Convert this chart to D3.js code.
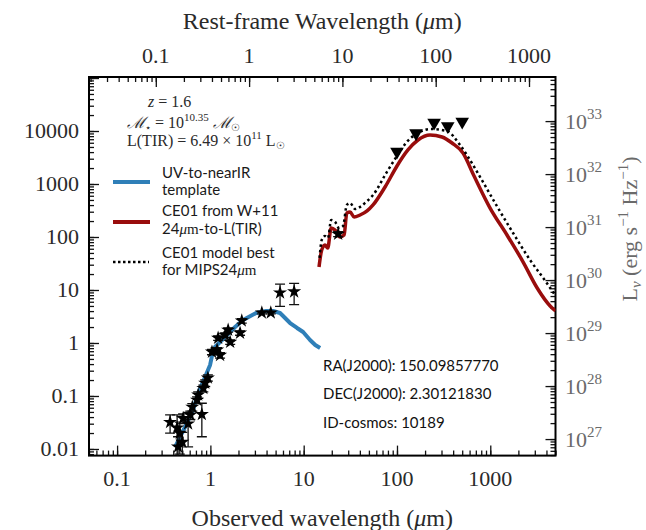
<!DOCTYPE html>
<html>
<head>
<meta charset="utf-8">
<script src="https://cdn.jsdelivr.net/npm/d3@7"></script>
<style>
  body { margin: 0; background: #fff; }
</style>
</head>
<body>
<div class="sed"></div>
<script>
// globals
const redshift = 1.6;
const lumFactor = 6.5e28; // uJy -> erg s^-1 Hz^-1 at z=1.6

// UV-to-nearIR template (observed um, uJy)
const blueWave = [0.419, 0.473, 0.535, 0.653, 0.738, 0.877, 0.993, 1.04, 1.12, 1.44, 1.84, 2.24, 3.09, 3.96, 4.70, 5.58, 6.32, 7.15, 8.49, 9.86, 11.7, 13.3, 15.0];
const blueFlux = [0.0109, 0.0168, 0.026, 0.0544, 0.114, 0.228, 0.385, 0.569, 0.841, 1.30, 2.00, 2.72, 3.68, 4.02, 4.02, 3.68, 2.96, 2.38, 1.92, 1.61, 1.14, 0.917, 0.805];

// CE01 from W+11
const redWave = [14.6, 15.6, 16.9, 18.1, 19.7, 21.7, 24.5, 27.1, 29.0, 31.4, 34.7, 40.2, 47.8, 55.4, 74.5, 100, 131, 168, 226, 304, 389, 510, 670, 995, 1510, 2250, 3180, 4380, 5010];
const redFlux = [27.2, 56.9, 70.6, 62, 148, 135, 100, 109, 284, 296, 238, 260, 310, 402, 877, 2190, 4390, 6770, 8410, 7710, 5940, 3850, 1415, 352, 109, 33.7, 10.9, 4.99, 4.02];

// CE01 model best for MIPS24
const dotWave = [14.8, 15.6, 16.9, 18.2, 19.7, 21.7, 23.9, 26.4, 29.0, 31.4, 35.6, 40.2, 46.6, 55.4, 77.8, 100, 127, 168, 226, 342, 474, 654, 778, 1175, 1755, 2670, 4030, 5010];
const dotFlux = [40.2, 87.8, 104, 95.7, 209, 192, 148, 161, 402, 438, 337, 368, 457, 620, 1680, 3380, 6190, 9160, 10900, 10000, 5440, 2280, 1355, 385, 119, 36.8, 13.6, 7.7];

// photometry
const photWave = [0.37, 0.44, 0.45, 0.47, 0.50, 0.51, 0.577, 0.61, 0.64, 0.72, 0.74, 0.81, 0.84, 0.88, 0.94, 1.04, 1.18, 1.27, 1.21, 1.44, 1.55, 1.63, 2.08, 2.17, 3.56, 4.44, 5.58, 7.9, 23.4];
const photFlux = [0.032, 0.025, 0.011, 0.020, 0.0135, 0.038, 0.030, 0.044, 0.062, 0.084, 0.105, 0.045, 0.14, 0.176, 0.22, 0.68, 0.74, 0.59, 1.24, 1.41, 1.76, 1.04, 1.55, 2.63, 3.73, 3.73, 8.9, 9.3, 114];
const photErr = [0.012, 0.019, 0.006, 0.012, 0.007, 0.008, 0.019, 0.008, 0.010, 0.012, 0.015, 0.028, 0.020, 0.025, 0.030, 0.08, 0.08, 0.07, 0.12, 0.14, 0.16, 0.10, 0.15, 0.25, 0.20, 0.20, 4.0, 4.0, 12];

// Herschel upper limits
const limWave = [100, 160, 250, 350, 500];
const limFlux = [4070, 9060, 14350, 12400, 14960];

// tick labels
const leftTicks = [0.01, 0.1, 1, 10, 100, 1000, 10000];
const bottomTicks = [0.1, 1, 10, 100, 1000];
const topTicks = [0.1, 1, 10, 100, 1000];
const rightExp = [27, 28, 29, 30, 31, 32, 33];

const xDomain = [0.05, 5000];
const yDomain = [0.0075, 1.045e5];

const W = 646, H = 530;
const L = 89, R = 555.5, T = 77, B = 455.6;

const svg = d3.select(".sed").append("svg")
    .attr("width", W).attr("height", H);

const x = d3.scaleLog().domain(xDomain).range([L, R]);
const y = d3.scaleLog().domain(yDomain).range([B, T]);
const xTop = d3.scaleLog().domain(xDomain.map(d => d / (1 + redshift))).range([L, R]);
const yRight = d3.scaleLog().domain(yDomain.map(d => d * lumFactor)).range([B, T]);

// minor tick helper
function logMinors(scale) {
    const dom = scale.domain();
    const out = [];
    for (let e = Math.floor(Math.log10(dom[0])); e <= Math.ceil(Math.log10(dom[1])); e++) {
        for (let k = 1; k <= 9; k++) {
            const v = k * Math.pow(10, e);
            if (v >= dom[0] && v <= dom[1]) out.push(v);
        }
    }
    return out;
}
function majors(scale) {
    return logMinors(scale).filter(v => Math.abs(Math.log10(v) - Math.round(Math.log10(v))) < 1e-9);
}

function drawTicks(axisFn, scale, tx, ty) {
    const gMin = svg.append("g").attr("transform", `translate(${tx},${ty})`)
        .call(axisFn(scale).tickValues(logMinors(scale)).tickSize(-5).tickFormat(""));
    const gMaj = svg.append("g").attr("transform", `translate(${tx},${ty})`)
        .call(axisFn(scale).tickValues(majors(scale)).tickSize(-10).tickFormat(""));
    [gMin, gMaj].forEach(g => {
        g.select(".domain").remove();
        g.selectAll("line").attr("stroke", "#111").attr("stroke-width", 1.3);
    });
}
drawTicks(d3.axisBottom, x, 0, B);
drawTicks(d3.axisLeft, y, L, 0);
drawTicks(d3.axisTop, xTop, 0, T);
drawTicks(d3.axisRight, yRight, R, 0);

// frame
svg.append("rect")
    .attr("x", L).attr("y", T).attr("width", R - L).attr("height", B - T)
    .attr("fill", "none").attr("stroke", "#000").attr("stroke-width", 2);

const serif = "'Liberation Serif', 'DejaVu Serif', serif";
const sans = "Lato, 'Open Sans', sans-serif";

// tick labels
svg.append("g").selectAll("text").data(leftTicks).enter().append("text")
    .attr("x", L - 10).attr("y", d => y(d) + 7)
    .attr("text-anchor", "end").attr("font-family", serif).attr("font-size", 22)
    .attr("fill", "#2a2a2a").text(d => String(d));

svg.append("g").selectAll("text").data(bottomTicks).enter().append("text")
    .attr("x", d => x(d)).attr("y", 486)
    .attr("text-anchor", "middle").attr("font-family", serif).attr("font-size", 22)
    .attr("fill", "#2a2a2a").text(d => String(d));

svg.append("g").selectAll("text").data(topTicks).enter().append("text")
    .attr("x", d => xTop(d)).attr("y", 63)
    .attr("text-anchor", "middle").attr("font-family", serif).attr("font-size", 22)
    .attr("fill", "#2a2a2a").text(d => String(d));

const rl = svg.append("g").selectAll("text").data(rightExp).enter().append("text")
    .attr("x", 565).attr("y", d => yRight(Math.pow(10, d)) + 8)
    .attr("font-family", serif).attr("font-size", 22).attr("fill", "#6a6a6a");
rl.append("tspan").text("10");
rl.append("tspan").attr("dy", -10).attr("font-size", 15).text(d => d);

// axis titles
svg.append("text").attr("x", (L + R) / 2).attr("y", 526)
    .attr("text-anchor", "middle").attr("font-family", serif).attr("font-size", 24)
    .attr("fill", "#2a2a2a")
    .html('Observed wavelength (<tspan font-style="italic">μ</tspan>m)');

svg.append("text").attr("x", (L + R) / 2).attr("y", 29)
    .attr("text-anchor", "middle").attr("font-family", serif).attr("font-size", 24)
    .attr("fill", "#2a2a2a")
    .html('Rest-frame Wavelength (<tspan font-style="italic">μ</tspan>m)');

svg.append("text").attr("transform", "translate(637,229) rotate(-90)")
    .attr("text-anchor", "middle").attr("font-family", serif).attr("font-size", 22)
    .attr("fill", "#6a6a6a")
    .html('L<tspan font-size="15" dy="4" font-style="italic">ν</tspan><tspan dy="-4"> (erg s</tspan><tspan font-size="15" dy="-9">−1</tspan><tspan dy="9"> Hz</tspan><tspan font-size="15" dy="-9">−1</tspan><tspan dy="9">)</tspan>');

// curves
svg.append("clipPath").attr("id", "plotclip").append("rect")
    .attr("x", L).attr("y", T).attr("width", R - L).attr("height", B - T);
const plot = svg.append("g").attr("clip-path", "url(#plotclip)");

const line = d3.line().x(d => x(d[0])).y(d => y(d[1]));

plot.append("path").datum(d3.zip(blueWave, blueFlux))
    .attr("d", line).attr("fill", "none")
    .attr("stroke", "#2f7fb8").attr("stroke-width", 4).attr("stroke-linejoin", "round");

plot.append("path").datum(d3.zip(redWave, redFlux))
    .attr("d", line.curve(d3.curveMonotoneX)).attr("fill", "none")
    .attr("stroke", "#990d0d").attr("stroke-width", 3.5).attr("stroke-linejoin", "round");

plot.append("path").datum(d3.zip(dotWave, dotFlux))
    .attr("d", line.curve(d3.curveMonotoneX)).attr("fill", "none")
    .attr("stroke", "#000").attr("stroke-width", 2.5).attr("stroke-dasharray", "2.5,3");

// error bars
const phot = photWave.map((w, i) => ({ w: w, f: photFlux[i], e: photErr[i] }));
const eb = plot.append("g").selectAll("g").data(phot).enter().append("g")
    .attr("stroke", "#111").attr("stroke-width", 1.3);
const lo = d => y(Math.max(d.f - d.e, yDomain[0] * 0.9));
const hi = d => y(d.f + d.e);
eb.append("line").attr("x1", d => x(d.w)).attr("x2", d => x(d.w)).attr("y1", lo).attr("y2", hi);
eb.append("line").attr("x1", d => x(d.w) - 5).attr("x2", d => x(d.w) + 5).attr("y1", lo).attr("y2", lo);
eb.append("line").attr("x1", d => x(d.w) - 5).attr("x2", d => x(d.w) + 5).attr("y1", hi).attr("y2", hi);

// stars
plot.append("g").selectAll("path").data(phot).enter().append("path")
    .attr("d", d3.symbol().type(d3.symbolStar).size(62))
    .attr("transform", d => `translate(${x(d.w)},${y(d.f)})`)
    .attr("fill", "#000");

// upper limits
plot.append("g").selectAll("path").data(d3.zip(limWave, limFlux)).enter().append("path")
    .attr("d", d3.symbol().type(d3.symbolTriangle).size(80))
    .attr("transform", d => `translate(${x(d[0])},${y(d[1])}) rotate(180)`)
    .attr("fill", "#000");

// legend info
const info = svg.append("g").attr("font-family", serif).attr("font-size", 16).attr("fill", "#2a2a2a");
info.append("text").attr("x", 148).attr("y", 107)
    .html('<tspan font-style="italic">z</tspan> = 1.6');
info.append("text").attr("x", 127).attr("y", 128)
    .html('<tspan font-style="italic">ℳ</tspan><tspan font-size="10" dy="3">⋆</tspan><tspan dy="-3"> = 10</tspan><tspan font-size="11" dy="-7">10.35</tspan><tspan dy="7"> </tspan><tspan font-style="italic">ℳ</tspan><tspan font-size="10" dy="3">☉</tspan>');
info.append("text").attr("x", 127).attr("y", 146)
    .html('L(TIR) = 6.49 × 10<tspan font-size="11" dy="-7">11</tspan><tspan dy="7"> L</tspan><tspan font-size="10" dy="3">☉</tspan>');

const lg = svg.append("g").attr("font-family", sans).attr("font-size", 15).attr("fill", "#1a1a1a");
lg.append("line").attr("x1", 113).attr("x2", 150).attr("y1", 182).attr("y2", 182)
    .attr("stroke", "#2f7fb8").attr("stroke-width", 4);
lg.append("line").attr("x1", 113).attr("x2", 150).attr("y1", 222).attr("y2", 222)
    .attr("stroke", "#990d0d").attr("stroke-width", 4);
lg.append("line").attr("x1", 113).attr("x2", 149).attr("y1", 262).attr("y2", 262)
    .attr("stroke", "#000").attr("stroke-width", 2.5).attr("stroke-dasharray", "2.5,2.5");
lg.append("text").attr("x", 162).attr("y", 178).text("UV-to-nearIR");
lg.append("text").attr("x", 162).attr("y", 195).text("template");
lg.append("text").attr("x", 162).attr("y", 216).text("CE01 from W+11");
lg.append("text").attr("x", 162).attr("y", 234)
    .html('24<tspan font-family="Liberation Serif" font-style="italic">μ</tspan><tspan font-family="Liberation Serif">m</tspan>-to-L(TIR)');
lg.append("text").attr("x", 162).attr("y", 258).text("CE01 model best");
lg.append("text").attr("x", 162).attr("y", 275)
    .html('for MIPS24<tspan font-family="Liberation Serif" font-style="italic">μ</tspan><tspan font-family="Liberation Serif">m</tspan>');

// coordinates
const coords = svg.append("g").attr("font-family", sans).attr("font-size", 15).attr("fill", "#111");
coords.append("text").attr("x", 323).attr("y", 371).text("RA(J2000):  150.09857770");
coords.append("text").attr("x", 323).attr("y", 399).text("DEC(J2000):  2.30121830");
coords.append("text").attr("x", 323).attr("y", 428).text("ID-cosmos:  10189");
</script>
</body>
</html>
